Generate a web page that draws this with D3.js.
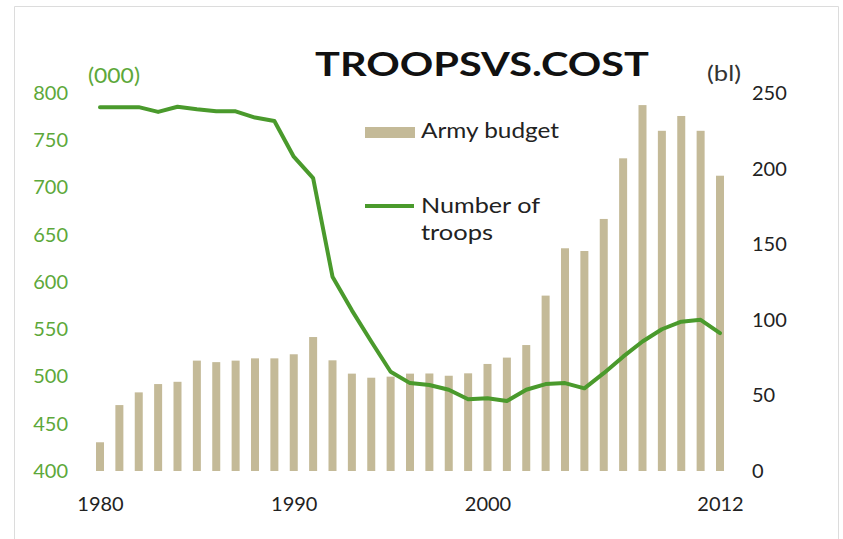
<!DOCTYPE html>
<html>
<head>
<meta charset="utf-8">
<script src="https://cdn.jsdelivr.net/npm/d3@7"></script>
<style>
  html, body { margin: 0; padding: 0; background: #fff; }
  svg { display: block; }
  text { font-family: Lato, "Open Sans", sans-serif; }
</style>
</head>
<body>
<svg id="chart" width="843" height="539"></svg>
<script>
const years = d3.range(1980, 2013);
const budget = [19, 43.6, 52, 57.5, 59, 73, 72, 73, 74.5, 74.5, 77.2, 88.6, 73.2, 64.4, 61.7, 62.4, 64.4, 64.5,
                63, 64.6, 70.8, 75, 83.3, 116, 147.3, 145.5, 166.7, 206.8, 242, 225, 234.8, 225, 195.3];
const troops = [785, 785, 785, 780, 785.5, 782.7, 780.6, 780.6, 774, 770.4, 732.6, 710, 605.6, 570, 537, 505, 493, 491,
                486, 476, 477, 474, 486, 492, 493, 487.5, 503.5, 521, 537, 550, 558, 560, 546];
const leftTicks = [400, 450, 500, 550, 600, 650, 700, 750, 800];
const rightTicks = [0, 50, 100, 150, 200, 250];
const xTickLabels = [1980, 1990, 2000, 2012];

const barColor = "#c4ba98";
const lineColor = "#4a9a2c";
const greenText = "#5da83a";

const svg = d3.select("#chart");

// frame
svg.append("path")
  .attr("d", "M14.5,539 V6.5 H838.5 V539")
  .attr("fill", "none").attr("stroke", "#dcdcdc").attr("stroke-width", 1);

const x = d3.scaleLinear().domain([1980, 2012]).range([100, 720]);
const yR = d3.scaleLinear().domain([0, 250]).range([471, 93]);
const yL = d3.scaleLinear().domain([400, 800]).range([471, 93]);

// bars
const barW = 8;
svg.append("g").selectAll("rect").data(years).join("rect")
  .attr("x", (d) => x(d) - barW / 2)
  .attr("y", (d, i) => yR(budget[i]))
  .attr("width", barW)
  .attr("height", (d, i) => yR(0) - yR(budget[i]))
  .attr("fill", barColor);

// line
const line = d3.line()
  .x((d, i) => x(years[i]))
  .y((d) => yL(d))
  .curve(d3.curveLinear);
svg.append("path").datum(troops)
  .attr("d", line)
  .attr("fill", "none")
  .attr("stroke", lineColor)
  .attr("stroke-width", 4)
  .attr("stroke-linejoin", "round")
  .attr("stroke-linecap", "round");

// left axis
const gL = svg.append("g").attr("transform", "translate(68,0)")
  .call(d3.axisLeft(yL).tickValues(leftTicks).tickSize(0).tickPadding(0).tickFormat(d3.format("d")));
gL.select(".domain").remove();
gL.selectAll("text").attr("fill", greenText).style("font-size", "20px").style("font-family", "Lato, sans-serif");

// right axis
const gR = svg.append("g").attr("transform", "translate(752,0)")
  .call(d3.axisRight(yR).tickValues(rightTicks).tickSize(0).tickPadding(0).tickFormat(d3.format("d")));
gR.select(".domain").remove();
gR.selectAll("text").attr("fill", "#222").style("font-size", "20px").style("font-family", "Lato, sans-serif");

// x axis
const gX = svg.append("g").attr("transform", "translate(0,497)")
  .call(d3.axisBottom(x).tickValues(xTickLabels).tickSize(0).tickPadding(0).tickFormat(d3.format("d")));
gX.select(".domain").remove();
gX.selectAll("text").attr("fill", "#222").style("font-size", "20px").style("font-family", "Lato, sans-serif");

// title
svg.append("text").attr("x", 482).attr("y", 76).attr("text-anchor", "middle")
  .attr("font-size", 32).attr("font-weight", "bold").attr("fill", "#111")
  .attr("textLength", 334).attr("lengthAdjust", "spacingAndGlyphs")
  .text("TROOPSVS.COST");

// unit labels
svg.append("text").attr("x", 88).attr("y", 83).attr("font-size", 21).attr("fill", greenText)
  .attr("textLength", 52).attr("lengthAdjust", "spacingAndGlyphs").text("(000)");
svg.append("text").attr("x", 707).attr("y", 81).attr("font-size", 21).attr("fill", "#333")
  .attr("textLength", 34).attr("lengthAdjust", "spacingAndGlyphs").text("(bl)");

// legend
svg.append("rect").attr("x", 365).attr("y", 127).attr("width", 50).attr("height", 11).attr("fill", barColor);
svg.append("text").attr("x", 421).attr("y", 138).attr("font-size", 21).attr("fill", "#222")
  .attr("textLength", 138).attr("lengthAdjust", "spacingAndGlyphs").text("Army budget");
svg.append("line").attr("x1", 365).attr("x2", 414).attr("y1", 206).attr("y2", 206)
  .attr("stroke", lineColor).attr("stroke-width", 4);
svg.append("text").attr("x", 421).attr("y", 213).attr("font-size", 21).attr("fill", "#222")
  .attr("textLength", 119).attr("lengthAdjust", "spacingAndGlyphs").text("Number of");
svg.append("text").attr("x", 421).attr("y", 240).attr("font-size", 21).attr("fill", "#222")
  .attr("textLength", 72).attr("lengthAdjust", "spacingAndGlyphs").text("troops");
</script>
</body>
</html>
